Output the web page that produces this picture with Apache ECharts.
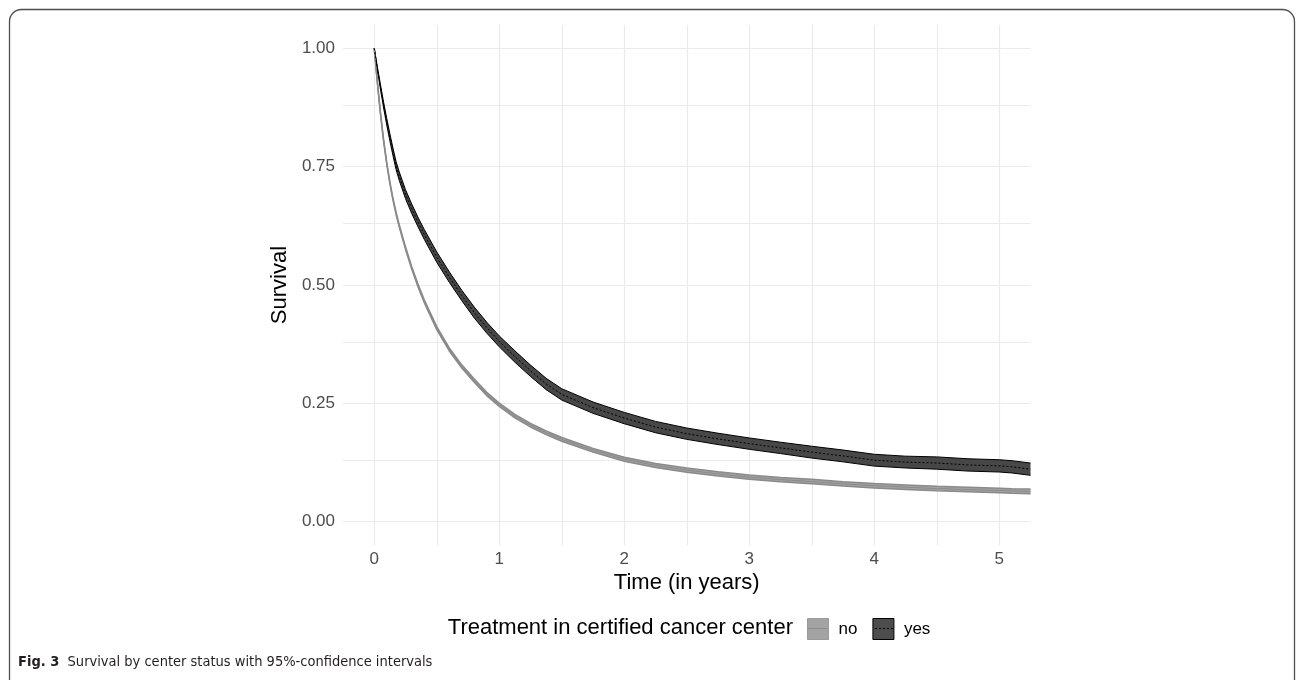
<!DOCTYPE html>
<html>
<head>
<meta charset="utf-8">
<script src="https://cdn.jsdelivr.net/npm/echarts@6/dist/echarts.min.js"></script>
<style>
    html, body { margin: 0; padding: 0; background: #fff; }
    #survival_chart { width: 1296px; height: 680px; }
</style>
</head>
<body>
<div id="survival_chart"></div>
<script>
    // time in years, survival
    const times = [0, 0.025, 0.05, 0.075, 0.1, 0.125, 0.15, 0.175, 0.2, 0.25, 0.3, 0.35, 0.4,
        0.5, 0.6, 0.7, 0.8, 0.9, 1.0, 1.125, 1.25, 1.375, 1.5, 1.75, 2.0, 2.25, 2.5, 2.75,
        3.0, 3.25, 3.5, 3.75, 4.0, 4.25, 4.5, 4.75, 5.0, 5.1, 5.25];
    const noSurv = [1.0, 0.928, 0.862, 0.805, 0.757, 0.716, 0.681, 0.651, 0.625, 0.578, 0.536, 0.499, 0.466,
        0.409, 0.364, 0.328, 0.298, 0.270, 0.247, 0.223, 0.204, 0.188, 0.174, 0.151, 0.132, 0.119, 0.109, 0.101,
        0.094, 0.089, 0.085, 0.080, 0.076, 0.073, 0.070, 0.068, 0.066, 0.065, 0.064];
    const yesSurv = [1.0, 0.958, 0.918, 0.880, 0.845, 0.812, 0.781, 0.752, 0.730, 0.692, 0.661, 0.633, 0.607,
        0.559, 0.517, 0.478, 0.442, 0.410, 0.381, 0.349, 0.319, 0.291, 0.269, 0.241, 0.219, 0.200, 0.186, 0.175,
        0.165, 0.156, 0.147, 0.139, 0.130, 0.126, 0.124, 0.120, 0.118, 0.116, 0.111];
    // half width of the 95% confidence band
    const noHalf = [0, 0.001, 0.0015, 0.002, 0.002, 0.002, 0.0022, 0.0024, 0.0025, 0.0027, 0.0028, 0.003, 0.003,
        0.0032, 0.0033, 0.0034, 0.0035, 0.0035, 0.0036, 0.0037, 0.0038, 0.0039, 0.004, 0.004, 0.0041, 0.0042, 0.0043, 0.0044,
        0.0045, 0.0045, 0.0046, 0.0046, 0.0047, 0.0047, 0.0048, 0.0048, 0.0049, 0.0049, 0.005];
    const yesHalf = [0, 0.003, 0.005, 0.006, 0.007, 0.0075, 0.008, 0.0085, 0.009, 0.0095, 0.01, 0.01, 0.0105,
        0.011, 0.011, 0.011, 0.0115, 0.0115, 0.0115, 0.012, 0.012, 0.012, 0.012, 0.012, 0.012, 0.012, 0.012, 0.012,
        0.012, 0.012, 0.0125, 0.0125, 0.0125, 0.0125, 0.013, 0.013, 0.013, 0.013, 0.013];

    const xMajor = [0, 1, 2, 3, 4, 5];
    const xMinor = [0.5, 1.5, 2.5, 3.5, 4.5];
    const yMajor = [0, 0.25, 0.5, 0.75, 1.0];
    const yMinor = [0.125, 0.375, 0.625, 0.875];

    const FONT = '"Liberation Sans", Arial, Helvetica, sans-serif';
    const CAPTION_FONT = '"Liberation Sans Narrow", "DejaVu Sans Condensed", sans-serif';

    function bandRows(s, h) { return times.map((t, i) => [t, s[i] - h[i], s[i] + h[i]]) }
    function edge(s, h, sign) { return times.map((t, i) => [t, s[i] + sign * h[i]]) }
    function centre(s) { return times.map((t, i) => [t, s[i]]) }

    function group(name, s, h, fill, edgeColor, edgeWidth, midType) {
        let rows = bandRows(s, h);
        return [
            {
                // ribbon drawn as one polygon through the axis scales
                name: name, type: 'custom', data: rows, z: 3, silent: true,
                itemStyle: {color: fill},
                encode: {x: 0, y: [1, 2]},
                renderItem: function (params, api) {
                    if (params.dataIndex !== 0) return;
                    let pts = [];
                    rows.forEach(r => pts.push(api.coord([r[0], r[2]])));
                    for (let i = rows.length - 1; i >= 0; i--) pts.push(api.coord([rows[i][0], rows[i][1]]));
                    return {type: 'polygon', shape: {points: pts}, style: {fill: fill}};
                }
            },
            {
                name: name + '_lo', type: 'line', data: edge(s, h, -1), silent: true,
                symbol: 'none', lineStyle: {color: edgeColor, width: edgeWidth}, z: 4
            },
            {
                name: name + '_hi', type: 'line', data: edge(s, h, 1), silent: true,
                symbol: 'none', lineStyle: {color: edgeColor, width: edgeWidth}, z: 4
            },
            {
                name: name + '_mid', type: 'line', data: centre(s), silent: true,
                symbol: 'none', lineStyle: {color: midType === 'solid' ? edgeColor : '#000', width: 1, type: midType}, z: 5
            }
        ]
    }

    let gridLines = [];
    xMajor.concat(xMinor).forEach(v => gridLines.push({xAxis: v}));
    yMajor.concat(yMinor).forEach(v => gridLines.push({yAxis: v}));

    let chart = echarts.init(document.getElementById('survival_chart'));
    let option = {
        animation: false,
        textStyle: {fontFamily: FONT},
        grid: {left: 343, right: 265.5, top: 24.7, bottom: 134.6},
        xAxis: {
            type: 'value', min: -0.25, max: 5.25, interval: 0.25,
            name: 'Time (in years)', nameLocation: 'middle', nameGap: 26,
            nameTextStyle: {color: '#000', fontSize: 22, fontFamily: FONT},
            axisLine: {show: false}, axisTick: {show: false}, splitLine: {show: false},
            axisLabel: {
                color: '#4d4d4d', fontSize: 17, margin: 5, fontFamily: FONT,
                formatter: function (v) {
                    return Math.abs(v - Math.round(v)) < 1e-6 ? String(Math.round(v)) : ''
                }
            }
        },
        yAxis: {
            type: 'value', min: -0.05, max: 1.05, interval: 0.05,
            name: 'Survival', nameLocation: 'middle', nameGap: 35,
            nameTextStyle: {color: '#000', fontSize: 22, fontFamily: FONT},
            axisLine: {show: false}, axisTick: {show: false}, splitLine: {show: false},
            axisLabel: {
                color: '#4d4d4d', fontSize: 17, margin: 8, fontFamily: FONT,
                formatter: function (v) {
                    let r = Math.round(v * 100);
                    return (r >= 0 && r % 25 === 0) ? (r / 100).toFixed(2) : ''
                }
            }
        },
        legend: {
            left: 807, top: 618, padding: 0, orient: 'horizontal', selectedMode: false,
            icon: 'rect', itemWidth: 21, itemHeight: 21, itemGap: 15,
            textStyle: {color: '#000', fontSize: 17, fontFamily: FONT, padding: [0, 0, 0, 5]},
            data: [
                {name: 'no', itemStyle: {color: '#a3a3a3', borderColor: '#9a9a9a', borderWidth: 1}},
                {name: 'yes', itemStyle: {color: '#4d4d4d', borderColor: '#000', borderWidth: 1}}
            ]
        },
        graphic: [
            {
                type: 'rect', silent: true, z: -1,
                shape: {x: 9.5, y: 9.5, width: 1285, height: 690, r: 12},
                style: {fill: 'none', stroke: '#4d4d4d', lineWidth: 1.3}
            },
            {
                type: 'text', silent: true,
                style: {
                    text: 'Treatment in certified cancer center', x: 793, y: 628,
                    align: 'right', verticalAlign: 'middle', fill: '#000',
                    fontSize: 22, fontFamily: FONT
                }
            },
            // centre lines inside the legend keys
            {
                type: 'line', silent: true, z: 100,
                shape: {x1: 808, y1: 628.5, x2: 827, y2: 628.5},
                style: {stroke: '#8a8a8a', lineWidth: 1}
            },
            {
                type: 'line', silent: true, z: 100,
                shape: {x1: 875, y1: 628.5, x2: 894, y2: 628.5},
                style: {stroke: '#000', lineWidth: 1, lineDash: [2, 2]}
            },
            {
                type: 'text', silent: true,
                style: {
                    text: '{b|Fig. 3}{r|  Survival by center status with 95%-confidence intervals}',
                    x: 18, y: 662, verticalAlign: 'middle',
                    rich: {
                        b: {fontWeight: 'bold', fontSize: 14.5, fontFamily: CAPTION_FONT, fill: '#231f20'},
                        r: {fontSize: 14.5, fontFamily: CAPTION_FONT, fill: '#231f20'}
                    }
                }
            }
        ],
        series: [
            {
                name: 'grid', type: 'line', data: [], silent: true, z: 1,
                markLine: {
                    silent: true, symbol: 'none', label: {show: false}, z: 1,
                    lineStyle: {color: '#ebebeb', width: 1.2, type: 'solid'},
                    emphasis: {disabled: true},
                    data: gridLines
                }
            }
        ].concat(
            group('no', noSurv, noHalf, '#a3a3a3', '#8a8a8a', 1.5, 'solid'),
            group('yes', yesSurv, yesHalf, '#474747', '#000', 1, [2, 2])
        )
    };

    chart.setOption(option)
</script>
</body>
</html>
